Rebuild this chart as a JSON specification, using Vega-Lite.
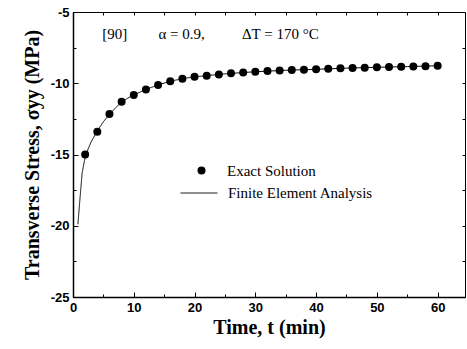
{
  "$schema": "https://vega.github.io/schema/vega-lite/v6.json",
  "width": 392,
  "height": 285,
  "autosize": {"type": "none"},
  "padding": {"left": 73, "top": 12, "right": 2, "bottom": 52},
  "background": "white",
  "config": {
    "view": {"stroke": "black", "strokeWidth": 1},
    "axis": {
      "domainColor": "black",
      "domainWidth": 1.5,
      "tickColor": "black",
      "tickWidth": 1,
      "grid": false,
      "labelFont": "Liberation Sans",
      "labelFontWeight": "bold",
      "labelFontSize": 13,
      "labelColor": "black",
      "titleFont": "Liberation Serif",
      "titleFontWeight": "bold",
      "titleFontSize": 20,
      "titleColor": "black"
    },
    "legend": {
      "labelFont": "Liberation Serif",
      "labelFontSize": 15,
      "labelColor": "black",
      "padding": 0
    }
  },
  "resolve": {"axis": {"x": "independent", "y": "independent"}},
  "datasets": {
    "exact": [
      {"t": 2, "stress": -15.0, "series": "Exact Solution"},
      {"t": 4, "stress": -13.4, "series": "Exact Solution"},
      {"t": 6, "stress": -12.15, "series": "Exact Solution"},
      {"t": 8, "stress": -11.3, "series": "Exact Solution"},
      {"t": 10, "stress": -10.82, "series": "Exact Solution"},
      {"t": 12, "stress": -10.43, "series": "Exact Solution"},
      {"t": 14, "stress": -10.12, "series": "Exact Solution"},
      {"t": 16, "stress": -9.86, "series": "Exact Solution"},
      {"t": 18, "stress": -9.68, "series": "Exact Solution"},
      {"t": 20, "stress": -9.55, "series": "Exact Solution"},
      {"t": 22, "stress": -9.47, "series": "Exact Solution"},
      {"t": 24, "stress": -9.38, "series": "Exact Solution"},
      {"t": 26, "stress": -9.3, "series": "Exact Solution"},
      {"t": 28, "stress": -9.24, "series": "Exact Solution"},
      {"t": 30, "stress": -9.19, "series": "Exact Solution"},
      {"t": 32, "stress": -9.14, "series": "Exact Solution"},
      {"t": 34, "stress": -9.11, "series": "Exact Solution"},
      {"t": 36, "stress": -9.07, "series": "Exact Solution"},
      {"t": 38, "stress": -9.05, "series": "Exact Solution"},
      {"t": 40, "stress": -9.02, "series": "Exact Solution"},
      {"t": 42, "stress": -8.98, "series": "Exact Solution"},
      {"t": 44, "stress": -8.95, "series": "Exact Solution"},
      {"t": 46, "stress": -8.93, "series": "Exact Solution"},
      {"t": 48, "stress": -8.91, "series": "Exact Solution"},
      {"t": 50, "stress": -8.88, "series": "Exact Solution"},
      {"t": 52, "stress": -8.86, "series": "Exact Solution"},
      {"t": 54, "stress": -8.84, "series": "Exact Solution"},
      {"t": 56, "stress": -8.83, "series": "Exact Solution"},
      {"t": 58, "stress": -8.81, "series": "Exact Solution"},
      {"t": 60, "stress": -8.77, "series": "Exact Solution"}
    ],
    "fea": [
      {"t": 0.8, "stress": -19.9, "series": "Finite Element Analysis"},
      {"t": 1.5, "stress": -16.3, "series": "Finite Element Analysis"},
      {"t": 1.9, "stress": -15.4, "series": "Finite Element Analysis"},
      {"t": 2.5, "stress": -14.6, "series": "Finite Element Analysis"},
      {"t": 3, "stress": -14.1, "series": "Finite Element Analysis"},
      {"t": 4, "stress": -13.35, "series": "Finite Element Analysis"},
      {"t": 5, "stress": -12.7, "series": "Finite Element Analysis"},
      {"t": 6, "stress": -12.2, "series": "Finite Element Analysis"},
      {"t": 7, "stress": -11.72, "series": "Finite Element Analysis"},
      {"t": 8, "stress": -11.32, "series": "Finite Element Analysis"},
      {"t": 9, "stress": -11.05, "series": "Finite Element Analysis"},
      {"t": 10, "stress": -10.82, "series": "Finite Element Analysis"},
      {"t": 12, "stress": -10.43, "series": "Finite Element Analysis"},
      {"t": 14, "stress": -10.12, "series": "Finite Element Analysis"},
      {"t": 16, "stress": -9.86, "series": "Finite Element Analysis"},
      {"t": 18, "stress": -9.68, "series": "Finite Element Analysis"},
      {"t": 20, "stress": -9.55, "series": "Finite Element Analysis"},
      {"t": 25, "stress": -9.34, "series": "Finite Element Analysis"},
      {"t": 30, "stress": -9.19, "series": "Finite Element Analysis"},
      {"t": 35, "stress": -9.09, "series": "Finite Element Analysis"},
      {"t": 40, "stress": -9.02, "series": "Finite Element Analysis"},
      {"t": 45, "stress": -8.94, "series": "Finite Element Analysis"},
      {"t": 50, "stress": -8.88, "series": "Finite Element Analysis"},
      {"t": 55, "stress": -8.83, "series": "Finite Element Analysis"},
      {"t": 60, "stress": -8.77, "series": "Finite Element Analysis"}
    ]
  },
  "layer": [
    {
      "data": {"name": "fea"},
      "mark": {"type": "line", "color": "black", "strokeWidth": 1},
      "encoding": {
        "x": {
          "field": "t", "type": "quantitative",
          "scale": {"domain": [0, 64.5], "nice": false, "zero": false},
          "axis": {
            "orient": "bottom",
            "title": "Time, t (min)",
            "values": [0, 5, 10, 15, 20, 25, 30, 35, 40, 45, 50, 55, 60],
            "labelExpr": "datum.value % 10 === 0 ? '' + datum.value : ''",
            "tickSize": {"condition": {"test": "datum.value % 10 === 0", "value": -5}, "value": -3},
            "labelPadding": 9,
            "labelFlush": false,
            "titlePadding": 3
          }
        },
        "y": {
          "field": "stress", "type": "quantitative",
          "scale": {"domain": [-25, -5], "nice": false, "zero": false},
          "axis": {
            "orient": "left",
            "title": "Transverse Stress, σyy (MPa)",
            "values": [-25, -22.5, -20, -17.5, -15, -12.5, -10, -7.5, -5],
            "labelExpr": "datum.value % 5 === 0 ? '' + datum.value : ''",
            "tickSize": {"condition": {"test": "datum.value % 5 === 0", "value": -5}, "value": -3},
            "labelPadding": 9,
            "labelFlush": false,
            "titlePadding": 8
          }
        },
        "strokeDash": {
          "field": "series", "type": "nominal",
          "scale": {"range": [[1, 0]]},
          "legend": {
            "orient": "none", "legendX": 107, "legendY": 162,
            "title": null,
            "symbolType": "stroke", "symbolSize": 1369,
            "symbolStrokeColor": "black", "symbolStrokeWidth": 1,
            "labelOffset": 10
          }
        }
      }
    },
    {
      "data": {"name": "exact"},
      "mark": {"type": "point", "filled": true, "color": "black", "size": 64, "opacity": 1},
      "encoding": {
        "x": {
          "field": "t", "type": "quantitative",
          "axis": {
            "orient": "top", "title": null, "labels": false, "domain": false,
            "values": [0, 5, 10, 15, 20, 25, 30, 35, 40, 45, 50, 55, 60],
            "tickSize": -3
          }
        },
        "y": {
          "field": "stress", "type": "quantitative",
          "axis": {
            "orient": "right", "title": null, "labels": false, "domain": false,
            "values": [-25, -22.5, -20, -17.5, -15, -12.5, -10, -7.5, -5],
            "tickSize": -3
          }
        },
        "shape": {
          "field": "series", "type": "nominal",
          "scale": {"range": ["circle"]},
          "legend": {
            "orient": "none", "legendX": 121, "legendY": 151,
            "title": null,
            "symbolSize": 64, "symbolFillColor": "black", "symbolStrokeColor": "black",
            "symbolStrokeWidth": 0, "symbolOpacity": 1,
            "labelOffset": 18
          }
        }
      }
    },
    {
      "data": {"values": [{"label": "[90]"}]},
      "mark": {"type": "text", "font": "Liberation Serif", "fontSize": 15, "align": "left", "baseline": "middle", "color": "black"},
      "encoding": {
        "x": {"datum": 4.8, "type": "quantitative", "axis": null},
        "y": {"datum": -6.52, "type": "quantitative", "axis": null},
        "text": {"field": "label"}
      }
    },
    {
      "data": {"values": [{"label": "α = 0.9,"}]},
      "mark": {"type": "text", "font": "Liberation Serif", "fontSize": 15, "align": "left", "baseline": "middle", "color": "black"},
      "encoding": {
        "x": {"datum": 14.05, "type": "quantitative", "axis": null},
        "y": {"datum": -6.52, "type": "quantitative", "axis": null},
        "text": {"field": "label"}
      }
    },
    {
      "data": {"values": [{"label": "ΔT = 170 °C"}]},
      "mark": {"type": "text", "font": "Liberation Serif", "fontSize": 15, "align": "left", "baseline": "middle", "color": "black"},
      "encoding": {
        "x": {"datum": 27.8, "type": "quantitative", "axis": null},
        "y": {"datum": -6.52, "type": "quantitative", "axis": null},
        "text": {"field": "label"}
      }
    }
  ]
}
